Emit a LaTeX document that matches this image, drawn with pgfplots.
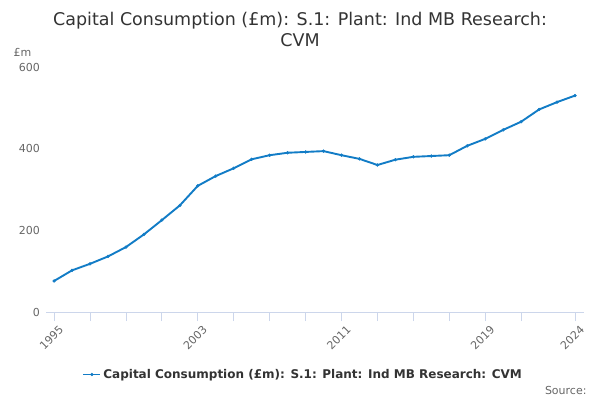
\documentclass[border=0pt]{standalone}
\usepackage{pgfplots}
\pgfplotsset{compat=1.18}
\usepackage{fontspec}
\setmainfont{DejaVu Sans}
\definecolor{line}{RGB}{18,124,198}
\definecolor{gridc}{RGB}{230,230,230}
\definecolor{axc}{RGB}{204,214,235}
\definecolor{tickc}{RGB}{102,102,102}
\definecolor{titlec}{RGB}{51,51,51}
\begin{document}
\begin{tikzpicture}
\path[use as bounding box] (0,0) rectangle (600bp,400bp);
\node[text=titlec, font=\fontsize{17.5bp}{21bp}\selectfont, align=center] at (300bp,371bp) {Capital Consumption (£m): S.1: Plant: Ind MB Research:\\CVM};
\node[text=tickc, font=\fontsize{11bp}{13bp}\selectfont, anchor=west] at (10bp,348bp) {£m};
\node[text=tickc, font=\fontsize{11bp}{13bp}\selectfont, anchor=east] at (590bp,10bp) {Source:};
\begin{axis}[
  at={(46bp,88bp)}, anchor=south west,
  scale only axis, width=538bp, height=245bp,
  xmin=1994.55, xmax=2024.5, ymin=0, ymax=600,
  axis line style={draw=none},
  axis x line*=bottom,
  axis y line=none,
  ytick={0,200,400,600},
  ymajorgrids, grid style={gridc, line width=0.8bp},
  xtick={1995,2003,2011,2019,2024},
  minor xtick={1997,1999,2001,2005,2007,2009,2013,2015,2017,2021},
  x tick label style={rotate=45, anchor=north east, text=tickc, font=\fontsize{11bp}{13bp}\selectfont, xshift=4bp, yshift=-2bp},
  xtick style={axc, line width=0.8bp},
  minor x tick style={axc, line width=0.8bp},
  major tick length=9bp, minor tick length=9bp,
  tick align=outside,
  xtick pos=bottom,
  /pgf/number format/assume math mode=true,
  /pgf/number format/1000 sep={},
  legend style={at={(0.478,-0.255)}, anchor=center, draw=none, font=\bfseries\fontsize{12bp}{14bp}\selectfont, text=titlec},
  legend cell align=left,
  clip=false,
]
\draw[axc, line width=0.8bp] (axis cs:1994.55,0) -- (axis cs:2024.5,0);
\node[text=tickc, font=\fontsize{11bp}{13bp}\selectfont, anchor=east] at (axis cs:1994.4,0) {0};
\node[text=tickc, font=\fontsize{11bp}{13bp}\selectfont, anchor=east] at (axis cs:1994.4,200) {200};
\node[text=tickc, font=\fontsize{11bp}{13bp}\selectfont, anchor=east] at (axis cs:1994.4,400) {400};
\node[text=tickc, font=\fontsize{11bp}{13bp}\selectfont, anchor=east] at (axis cs:1994.4,600) {600};
\addplot[line, line width=1.9bp, mark=*, mark size=1.4bp, mark options={fill=line, draw=line, line width=0.5bp}] coordinates {
(1995,76) (1996,102) (1997,118) (1998,136) (1999,159) (2000,190) (2001,225) (2002,261)
(2003,309) (2004,333) (2005,352) (2006,374) (2007,384) (2008,390) (2009,392) (2010,394)
(2011,384) (2012,375) (2013,360) (2014,373) (2015,380) (2016,382) (2017,384) (2018,407)
(2019,424) (2020,446) (2021,466) (2022,496) (2023,514) (2024,530)
};
\addlegendentry{Capital Consumption (£m): S.1: Plant: Ind MB Research: CVM}
\end{axis}
\end{tikzpicture}
\end{document}
